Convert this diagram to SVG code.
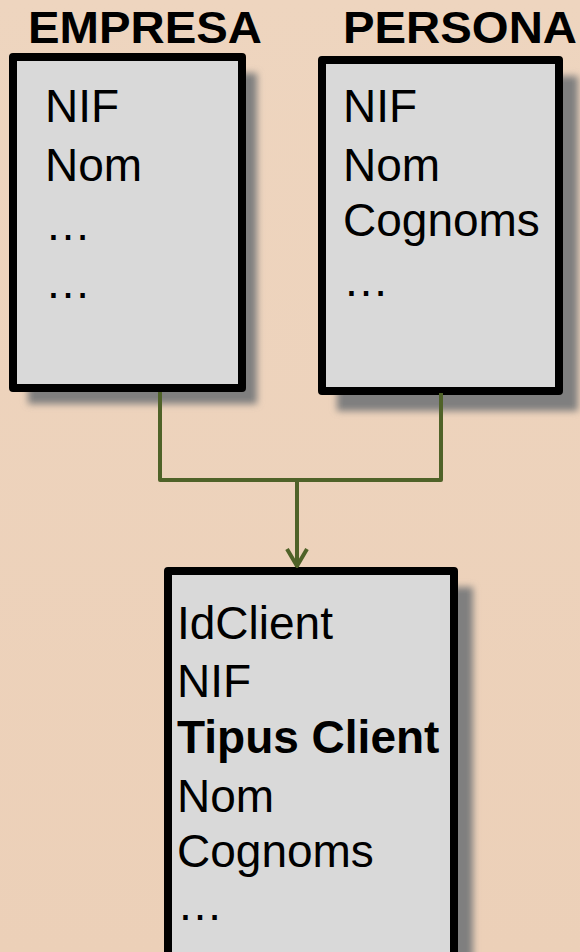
<svg xmlns="http://www.w3.org/2000/svg" width="580" height="952" viewBox="0 0 580 952">
<defs>
<style>
.box{fill:#D9D9D9;stroke:#000;stroke-width:8;stroke-linejoin:round}
.shadow{fill:#7F7F7F;filter:url(#blur)}
.t{font-family:"Liberation Sans",Arial,sans-serif;font-size:46px;fill:#000}
.title{font-family:"Liberation Sans",Arial,sans-serif;font-size:44px;font-weight:bold;fill:#000}
.b{font-weight:bold}
.conn{fill:none;stroke:#4F6228;stroke-width:4;stroke-linejoin:round}
</style>
<filter id="blur" x="-10%" y="-10%" width="120%" height="120%"><feGaussianBlur stdDeviation="3.5"/></filter>
<linearGradient id="bg" x1="0" y1="0" x2="0" y2="1">
<stop offset="0" stop-color="#EED5BF"/>
<stop offset="1" stop-color="#ECD0B8"/>
</linearGradient>
</defs>
<rect width="580" height="952" fill="url(#bg)"/>
<g id="empresa">
<rect class="shadow" x="28" y="73" width="229" height="331"/>
<rect class="box" x="13" y="57" width="229" height="331"/>
<text class="title" x="28" y="43" textLength="234" lengthAdjust="spacingAndGlyphs">EMPRESA</text>
<text class="t" x="45" y="122">NIF</text>
<text class="t" x="45" y="181">Nom</text>
<text class="t" x="45" y="240">…</text>
<text class="t" x="45" y="298">…</text>
</g>
<g id="persona">
<rect class="shadow" x="337" y="76" width="241" height="335"/>
<rect class="box" x="322" y="60" width="237" height="331"/>
<text class="title" x="343" y="43" textLength="234" lengthAdjust="spacingAndGlyphs">PERSONA</text>
<text class="t" x="343" y="122">NIF</text>
<text class="t" x="343" y="181">Nom</text>
<text class="t" x="343" y="236">Cognoms</text>
<text class="t" x="343" y="296">…</text>
</g>
<g id="client">
<rect class="shadow" x="183" y="587" width="290" height="400"/>
<rect class="box" x="168" y="571" width="286" height="400"/>
<text class="t" x="177" y="639">IdClient</text>
<text class="t" x="177" y="697">NIF</text>
<text class="t b" x="177" y="753">Tipus Client</text>
<text class="t" x="177" y="812">Nom</text>
<text class="t" x="177" y="867">Cognoms</text>
<text class="t" x="177" y="920">…</text>
</g>
<g id="connectors">
<path class="conn" d="M160 392 V480 H441 V393"/>
<path class="conn" d="M297 480 V567"/>
<path class="conn" d="M287 549 L297 566 L307 549"/>
</g>
</svg>
